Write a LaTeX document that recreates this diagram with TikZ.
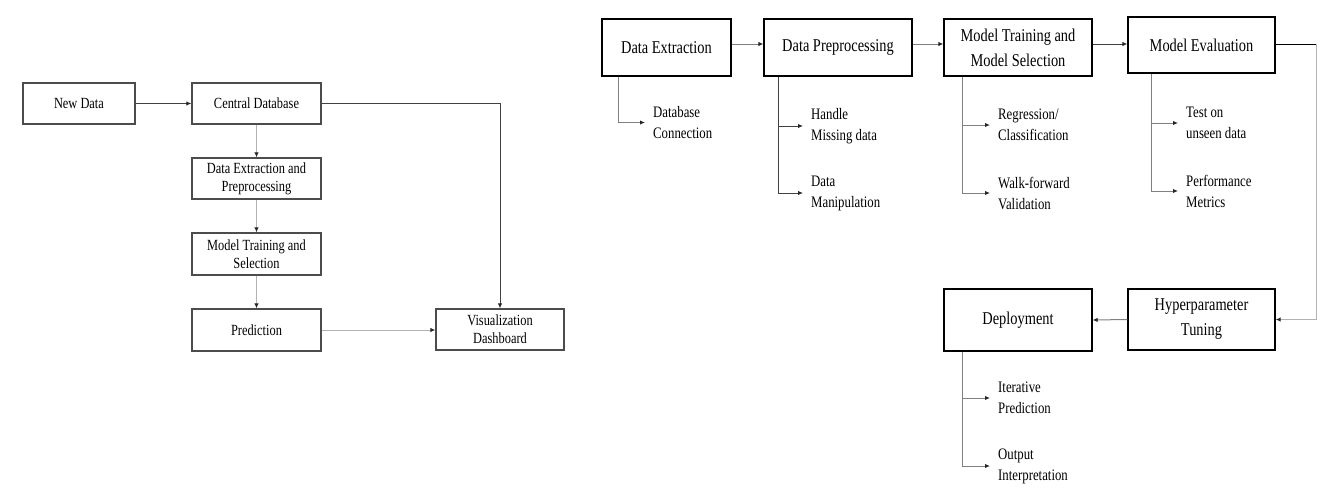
\documentclass[tikz,border=0pt]{standalone}
\usepackage{fontspec}
\setmainfont[FakeStretch=0.8]{Liberation Serif}
\usetikzlibrary{arrows.meta}
\tikzset{
  lbox/.style={draw=black!70, line width=1.3pt, align=center, inner sep=0pt,
    font=\fontsize{15.5}{18}\selectfont},
  rbox/.style={draw=black, line width=1.3pt, align=center, inner sep=0pt,
    font=\fontsize{18}{25}\selectfont},
  subtxt/.style={anchor=west, align=left, inner xsep=8pt, inner ysep=0pt,
    font=\fontsize{16}{21}\selectfont},
  tip/.style={-{Latex[length=5pt,width=4.5pt,color=black!85]}},
  dark/.style={tip, draw=black!75, line width=1pt},
  mid/.style={tip, draw=black!50, line width=1pt},
  light/.style={tip, draw=black!30, line width=1pt},
}
\begin{document}
\begin{tikzpicture}[x=1pt,y=-1pt]
\useasboundingbox (0,0) rectangle (1328,496);
% ---------- left diagram ----------
\node[lbox, minimum width=112pt, minimum height=41pt] (nd)  at (79,103.5)  {New Data};
\node[lbox, minimum width=129pt, minimum height=41pt] (cdb) at (256.5,103.5) {Central Database};
\node[lbox, minimum width=129pt, minimum height=41pt] (dep) at (256.5,178.5) {Data Extraction and\\Preprocessing};
\node[lbox, minimum width=129pt, minimum height=42pt] (mts) at (256.5,254) {Model Training and\\Selection};
\node[lbox, minimum width=129pt, minimum height=42pt] (pred) at (256.5,330) {Prediction};
\node[lbox, minimum width=128pt, minimum height=41pt] (vis) at (500,329.5) {Visualization\\Dashboard};
\draw[dark] (nd.east) -- (cdb.west);
\draw[dark] (cdb.east) -| (vis.north);
\draw[light] (cdb.south) -- (dep.north);
\draw[light] (dep.south) -- (mts.north);
\draw[light] (mts.south) -- (pred.north);
\draw[light] (pred.east) -- (pred.east -| vis.west);
% ---------- right diagram ----------
\node[rbox, minimum width=129pt, minimum height=57pt] (de) at (666.5,47.5) {Data Extraction};
\node[rbox, minimum width=148pt, minimum height=57pt] (dp) at (838,47.5) {Data Preprocessing};
\node[rbox, minimum width=148pt, minimum height=57pt] (mt) at (1018,47.5) {Model Training and\\Model Selection};
\node[rbox, minimum width=147pt, minimum height=56pt] (me) at (1201.5,45) {Model Evaluation};
\node[rbox, minimum width=147pt, minimum height=61pt] (hp) at (1201.5,319.5) {Hyperparameter\\Tuning};
\node[rbox, minimum width=148pt, minimum height=62pt] (dl) at (1018,320) {Deployment};
\coordinate (corner) at (1316,44);
\draw[mid] (de.east |- 0,44) -- (dp.west |- 0,44);
\draw[mid] (dp.east |- 0,44) -- (mt.west |- 0,44);
\draw[dark] (mt.east |- 0,44) -- (me.west |- 0,44);
\draw[draw=black, line width=1pt] (me.east |- 0,44) -- (corner);
\draw[light] (corner) |- (hp.east);
\draw[mid] (hp.west) -- (dl.east);
% sub items
\node[subtxt] (s1) at (645,122.5) {Database\\Connection};
\node[subtxt] (s2) at (803,126) {Handle\\Missing data};
\node[subtxt] (s3) at (803,193) {Data\\Manipulation};
\node[subtxt] (s4) at (990,125) {Regression/\\Classification};
\node[subtxt] (s5) at (990,193) {Walk-forward\\Validation};
\node[subtxt] (s6) at (1178,123) {Test on\\unseen data};
\node[subtxt] (s7) at (1178,191) {Performance\\Metrics};
\node[subtxt] (s8) at (990,398) {Iterative\\Prediction};
\node[subtxt] (s9) at (990,466) {Output\\Interpretation};
\draw[mid] ([xshift=17pt]de.south west) |- (s1.west);
\draw[dark] ([xshift=15pt]dp.south west) |- (s2.west);
\draw[dark] ([xshift=15pt]dp.south west) |- (s3.west);
\draw[mid] ([xshift=19pt]mt.south west) |- (s4.west);
\draw[mid] ([xshift=19pt]mt.south west) |- (s5.west);
\draw[mid] ([xshift=24pt]me.south west) |- (s6.west);
\draw[mid] ([xshift=24pt]me.south west) |- (s7.west);
\draw[mid] ([xshift=19pt]dl.south west) |- (s8.west);
\draw[mid] ([xshift=19pt]dl.south west) |- (s9.west);
\end{tikzpicture}
\end{document}
